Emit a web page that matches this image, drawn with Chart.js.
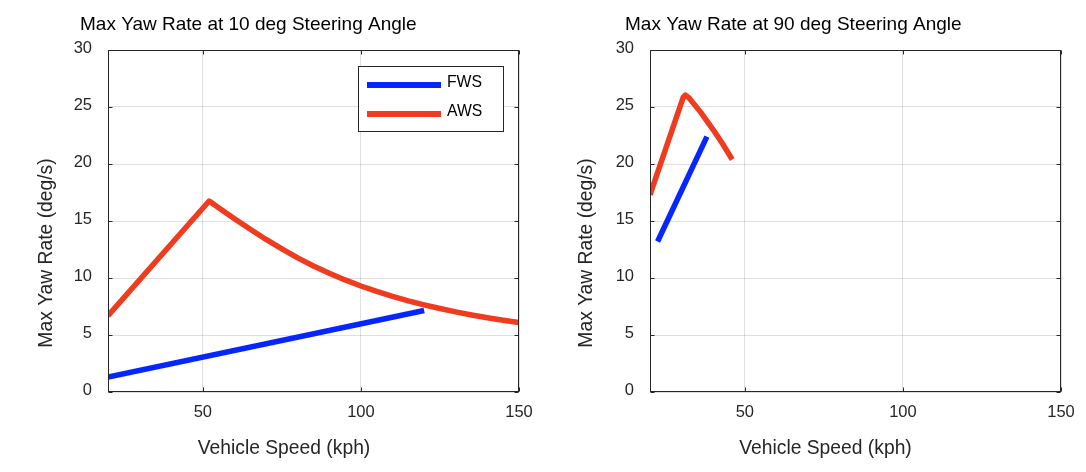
<!DOCTYPE html>
<html>
<head>
<meta charset="utf-8">
<script src="https://cdn.jsdelivr.net/npm/chart.js@4.4.0/dist/chart.umd.min.js"></script>
<style>
  html, body { margin: 0; padding: 0; background: #fff; }
  #wrap { position: relative; width: 1086px; height: 472px; }
  .panel { position: absolute; top: 0; width: 543px; height: 472px; }
</style>
</head>
<body>
<div id="wrap">
  <div class="panel" style="left:0"><canvas id="chartLeft" width="543" height="472"></canvas></div>
  <div class="panel" style="left:543px"><canvas id="chartRight" width="543" height="472"></canvas></div>
</div>
<script>
// ---- data ----
const xTicks = [50, 100, 150]
const yTicks = [0, 5, 10, 15, 20, 25, 30]

// 10 deg steering angle
const speedFws10 = [20, 120]
const yawFws10 = [1.3, 7.15]
const speedAws10 = [20, 52, 55, 60, 65, 70, 75, 80, 85, 90, 95, 100, 105, 110, 115, 120, 125, 130, 135, 140, 145, 150]
const yawAws10 = [6.7, 16.75, 16.16, 15.2, 14.27, 13.38, 12.55, 11.77, 11.05, 10.41, 9.83, 9.3,
                  8.82, 8.38, 7.99, 7.64, 7.32, 7.03, 6.76, 6.52, 6.3, 6.1]

// 90 deg steering angle
const speedFws90 = [22.4, 38]
const yawFws90 = [13.2, 22.4]
const speedAws90 = [20, 30.5, 31.2, 32.5, 36, 40, 43, 46]
const yawAws90 = [17.3, 25.85, 26.05, 25.75, 24.55, 23.0, 21.75, 20.4]

const BLUE = '#0526ff'
const RED = '#ef3b1e'
const AXIS = '#262626'
const GRID = 'rgba(38,38,38,0.15)'
const FONT = '"Liberation Sans", Arial, Helvetica, sans-serif'

const toPoints = (xs, ys) => xs.map((x, i) => ({ x: x, y: ys[i] }))

// box, inward ticks, tick labels, titles and legend, MATLAB style
const frame = {
    id: 'frame',
    afterDraw(chart) {
        const o = chart.options.plugins.frame
        const { ctx, chartArea: a, scales: { x, y } } = chart
        const L = Math.round(a.left) + 0.5, R = Math.round(a.right) - 0.5
        const T = Math.round(a.top) + 0.5, B = Math.round(a.bottom) - 0.5
        ctx.save()
        ctx.strokeStyle = AXIS
        ctx.lineWidth = 1
        ctx.strokeRect(L, T, R - L, B - T)

        ctx.beginPath()
        xTicks.forEach(v => {
            const px = Math.round(x.getPixelForValue(v)) + 0.5
            ctx.moveTo(px, B); ctx.lineTo(px, B - 4)
            ctx.moveTo(px, T); ctx.lineTo(px, T + 4)
        })
        yTicks.forEach(v => {
            const py = Math.round(y.getPixelForValue(v)) + 0.5
            ctx.moveTo(L, py); ctx.lineTo(L + 4, py)
            ctx.moveTo(R, py); ctx.lineTo(R - 4, py)
        })
        ctx.stroke()

        ctx.fillStyle = AXIS
        ctx.font = '16.5px ' + FONT
        ctx.textBaseline = 'alphabetic'
        ctx.textAlign = 'center'
        xTicks.forEach(v => ctx.fillText(String(v), x.getPixelForValue(v), a.bottom + 25))
        ctx.textAlign = 'right'
        yTicks.forEach(v => ctx.fillText(String(v), a.left - 16, y.getPixelForValue(v) + 3))

        // title
        ctx.fillStyle = '#000'
        ctx.font = '19px ' + FONT
        ctx.textAlign = 'left'
        ctx.fillText(o.title, o.titleX, 30)

        // axis titles
        ctx.fillStyle = AXIS
        ctx.font = '19.3px ' + FONT
        ctx.textAlign = 'center'
        ctx.fillText('Vehicle Speed (kph)', o.xLabelX, 454)
        ctx.save()
        ctx.translate(o.yLabelX, 253)
        ctx.rotate(-Math.PI / 2)
        ctx.fillText('Max Yaw Rate (deg/s)', 0, 0)
        ctx.restore()

        // legend
        if (o.legend) {
            ctx.fillStyle = '#fff'
            ctx.fillRect(358.5, 66.5, 145, 65)
            ctx.strokeStyle = AXIS
            ctx.strokeRect(358.5, 66.5, 145, 65)
            ctx.font = '15.75px ' + FONT
            ctx.textAlign = 'left'
            const rows = ['FWS', 'AWS']
            rows.forEach((name, i) => {
                const ds = chart.data.datasets.find(d => d.label === name)
                const ly = 85 + i * 29
                ctx.strokeStyle = ds.borderColor
                ctx.lineWidth = 6
                ctx.beginPath()
                ctx.moveTo(367, ly); ctx.lineTo(441, ly)
                ctx.stroke()
                ctx.fillStyle = '#000'
                ctx.fillText(name, 447, ly + 1.8)
            })
        }
        ctx.restore()
    }
}

const makeChart = (id, cfg) => new Chart(document.getElementById(id), {
    type: 'line',
    data: {
        datasets: [
            { label: 'AWS', data: toPoints(cfg.awsX, cfg.awsY), borderColor: RED, borderWidth: 5.5,
              pointRadius: 0, tension: 0, borderJoinStyle: 'round', fill: false },
            { label: 'FWS', data: toPoints(cfg.fwsX, cfg.fwsY), borderColor: BLUE, borderWidth: 5.5,
              pointRadius: 0, tension: 0, borderJoinStyle: 'round', fill: false }
        ]
    },
    options: {
        responsive: false,
        animation: false,
        events: [],
        layout: { padding: { left: cfg.padLeft, right: cfg.padRight, top: 50, bottom: 80 } },
        plugins: {
            legend: { display: false },
            tooltip: { enabled: false },
            frame: cfg.frame
        },
        scales: {
            x: {
                type: 'linear', min: 20, max: 150,
                ticks: { display: false },
                grid: { color: GRID, drawTicks: false },
                border: { display: false },
                afterBuildTicks: s => { s.ticks = xTicks.map(v => ({ value: v })) },
                afterFit: s => { s.height = 0 }
            },
            y: {
                type: 'linear', min: 0, max: 30,
                ticks: { display: false },
                grid: { color: GRID, drawTicks: false },
                border: { display: false },
                afterBuildTicks: s => { s.ticks = yTicks.map(v => ({ value: v })) },
                afterFit: s => { s.width = 0 }
            }
        }
    },
    plugins: [frame]
})

makeChart('chartLeft', {
    fwsX: speedFws10, fwsY: yawFws10, awsX: speedAws10, awsY: yawAws10,
    padLeft: 108, padRight: 24,
    frame: { title: 'Max Yaw Rate at 10 deg Steering Angle', titleX: 80, xLabelX: 284, yLabelX: 52, legend: true }
})

makeChart('chartRight', {
    fwsX: speedFws90, fwsY: yawFws90, awsX: speedAws90, awsY: yawAws90,
    padLeft: 107, padRight: 25,
    frame: { title: 'Max Yaw Rate at 90 deg Steering Angle', titleX: 82, xLabelX: 282.5, yLabelX: 49.3, legend: false }
})
</script>
</body>
</html>
